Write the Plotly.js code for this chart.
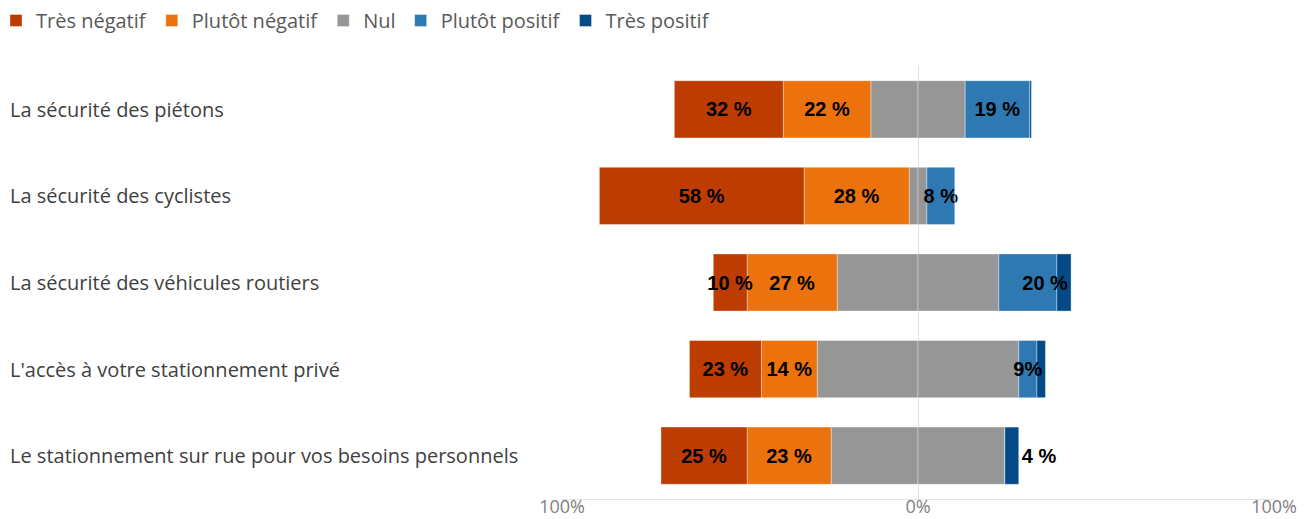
<!DOCTYPE html>
<html>
<head>
<meta charset="utf-8">
<script src="https://cdn.plot.ly/plotly-3.0.1.min.js"></script>
<style>html,body{margin:0;padding:0;background:#fff;}#chart{width:1313px;height:519px;}</style>
</head>
<body>
<div id="chart"></div>
<script>
// Data (percent of respondents)
const categories = [
  "La sécurité des piétons",
  "La sécurité des cyclistes",
  "La sécurité des véhicules routiers",
  "L'accès à votre stationnement privé",
  "Le stationnement sur rue pour vos besoins personnels"
];
const tresNegatif   = [30.6, 57.5, 9.5, 20.2, 24.2];
const plutotNegatif = [24.6, 29.5, 25.3, 15.7, 23.6];
const nul           = [26.5, 5.0, 45.4, 56.6, 48.8];
const plutotPositif = [18.1, 7.9, 16.3, 5.1, 0];
const tresPositif   = [0.5, 0, 4.0, 2.4, 3.9];

// Printed data labels
const lblTresNegatif   = ["32 %", "58 %", "10 %", "23 %", "25 %"];
const lblPlutotNegatif = ["22 %", "28 %", "27 %", "14 %", "23 %"];
const lblPlutotPositif = ["19 %", "8 %", "", "", ""];
const lblTresPositif   = ["", "", "20 %", "9%", "4 %"];

const seriesNames = ["Très négatif", "Plutôt négatif", "Nul", "Plutôt positif", "Très positif"];
const tickVals = [-100, 0, 100];
const tickText = ["100%", "0%", "100%"];

const colors = ["#bc3c02", "#eb720c", "#969696", "#2e79b2", "#034a86"];
const labelFont = {family: "Liberation Sans, Arial, sans-serif", size: 20, color: "#000", weight: "bold"};
const edge = {color: "rgba(255,255,255,0.45)", width: 0.8};
const uiFont = "Open Sans, Noto Sans, sans-serif";

function bar(name, x, color, extra) {
  return Object.assign({
    type: "bar", orientation: "h", name: name, y: categories, x: x,
    marker: {color: color, line: edge},
    textfont: labelFont, constraintext: "none", textposition: "inside", textangle: 0,
    insidetextanchor: "middle", hoverinfo: "skip", cliponaxis: false
  }, extra || {});
}

const neg = v => v.map(a => -a);
const traces = [
  bar(seriesNames[2], nul.map(a => -a / 2), colors[2], {legendgroup: "nul", showlegend: false, legendrank: 3}),
  bar(seriesNames[1], neg(plutotNegatif), colors[1], {text: lblPlutotNegatif, legendrank: 2}),
  bar(seriesNames[0], neg(tresNegatif), colors[0], {text: lblTresNegatif, legendrank: 1}),
  bar(seriesNames[2], nul.map(a => a / 2), colors[2], {legendgroup: "nul", legendrank: 3}),
  bar(seriesNames[3], plutotPositif, colors[3], {text: lblPlutotPositif, legendrank: 4}),
  bar(seriesNames[4], tresPositif, colors[4], {text: lblTresPositif, legendrank: 5,
      insidetextanchor: "end", textposition: ["inside", "inside", "inside", "inside", "outside"]})
];

const L = 562, R = 1274, T = 66, B = 499;
const pw = R - L, ph = B - T;

const annotations = categories.map(c => ({
  xref: "paper", yref: "y", x: (8 - L) / pw, y: c, xanchor: "left", yanchor: "middle",
  text: c, showarrow: false,
  font: {family: uiFont, size: 20, color: "#404040"}
}));

const layout = {
  width: 1313, height: 519,
  margin: {l: L, r: 1313 - R, t: T, b: 519 - B, autoexpand: false},
  paper_bgcolor: "#fff", plot_bgcolor: "#fff",
  barmode: "relative", bargap: 0.34,
  showlegend: true,
  legend: {
    orientation: "h", x: (-4 - L) / pw, xanchor: "left", y: 1 + (T - 1) / ph, yanchor: "top",
    font: {family: uiFont, size: 20, color: "#595959"},
    traceorder: "normal", itemclick: false
  },
  xaxis: {
    range: [-100, 100], tickvals: tickVals, ticktext: tickText,
    showgrid: true, gridcolor: "#e0e0e0", gridwidth: 1,
    zeroline: false, showline: true, linecolor: "#e3e3e3", linewidth: 1,
    ticks: "", fixedrange: true, automargin: false, ticklabelstandoff: -9,
    tickfont: {family: uiFont, size: 18, color: "#808080"}
  },
  yaxis: {
    type: "category", range: [4.5, -0.5], showticklabels: false,
    showgrid: false, zeroline: false, showline: false, ticks: "", fixedrange: true, automargin: false
  },
  annotations: annotations
};

Plotly.newPlot("chart", traces, layout, {displayModeBar: false, staticPlot: true});
</script>
</body>
</html>
